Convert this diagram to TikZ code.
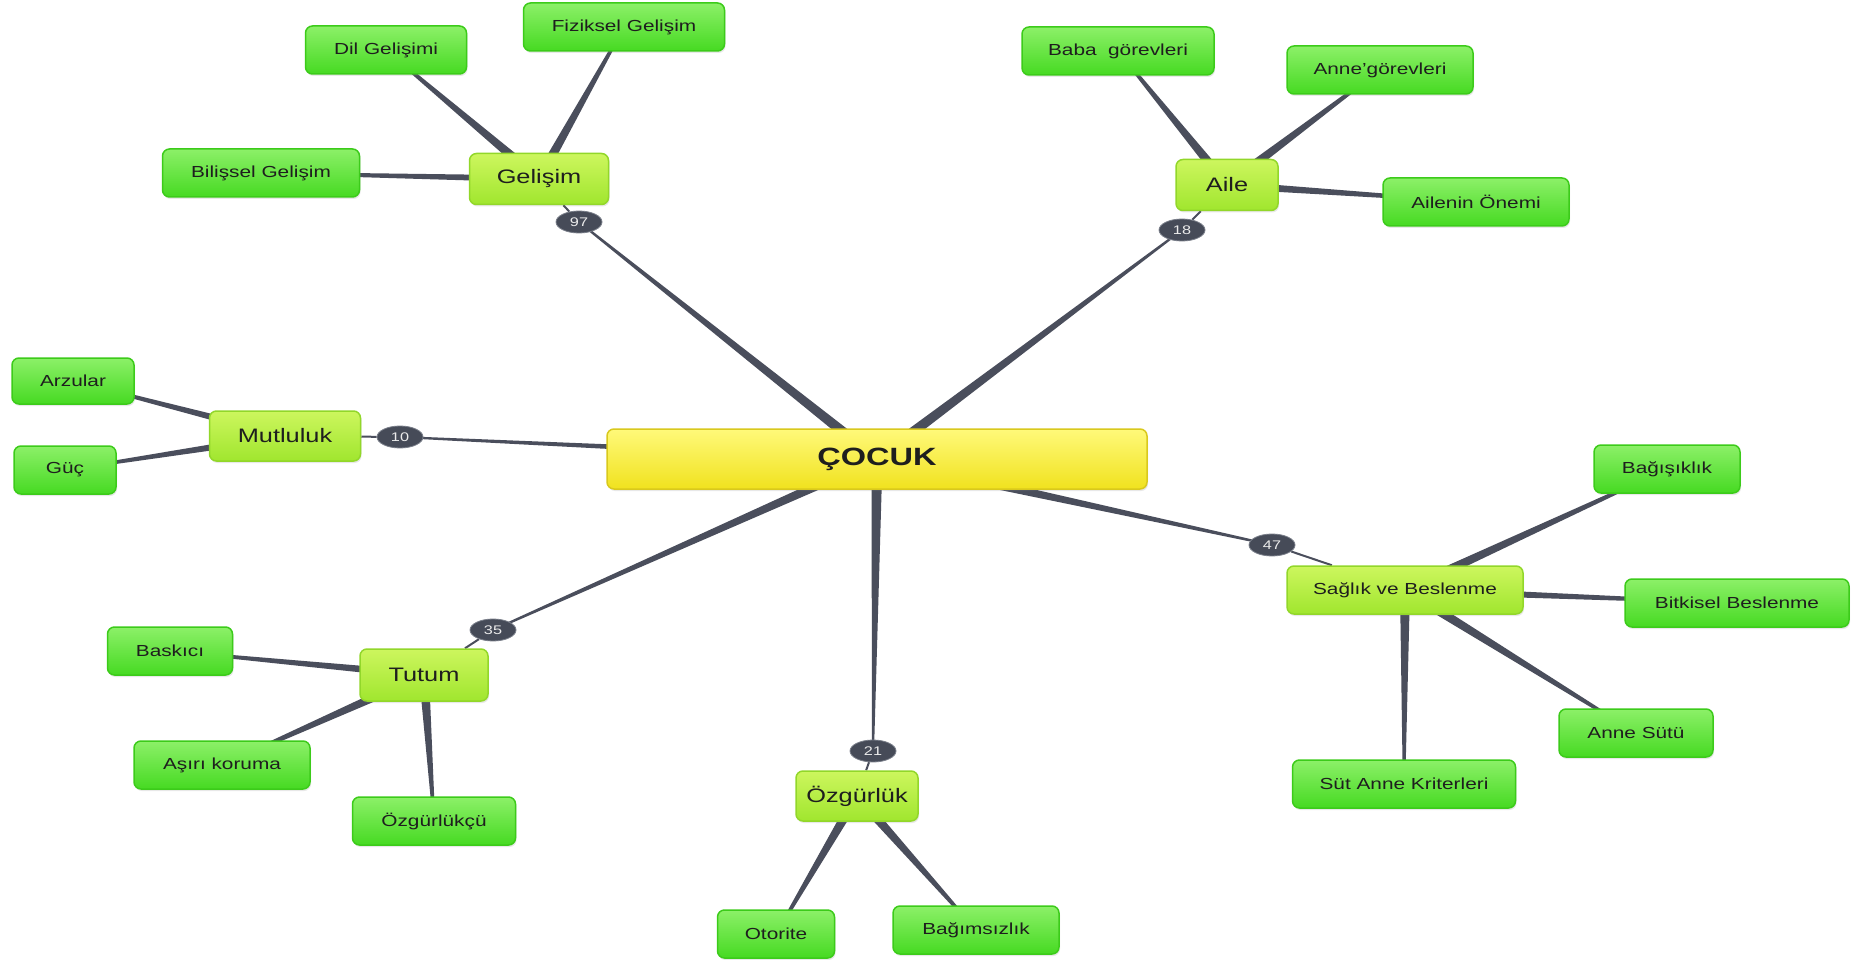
\documentclass[tikz,border=0pt]{standalone}
\usepackage{fontspec}
\setmainfont[FakeStretch=1.3]{Liberation Sans}
\usetikzlibrary{backgrounds,calc,shadows,shapes.geometric}
\definecolor{linec}{HTML}{4A4E5C}
\definecolor{leafT}{HTML}{8CF068}
\definecolor{leafBot}{HTML}{46DA22}
\definecolor{leafD}{HTML}{3CCB1A}
\definecolor{topT}{HTML}{CDF65E}
\definecolor{topBot}{HTML}{A0E62E}
\definecolor{topD}{HTML}{92D72A}
\definecolor{rootT}{HTML}{FFF97A}
\definecolor{rootBot}{HTML}{F0E21E}
\definecolor{rootD}{HTML}{D9C91C}
\definecolor{badgeF}{HTML}{464B58}
\definecolor{badgeD}{HTML}{7A7F8A}
\definecolor{txt}{HTML}{1E1E1E}
\newcommand\taper[4]{\fill[linec] ($(#1)!#3!90:(#2)$) -- ($(#1)!#3!-90:(#2)$) -- ($(#2)!#4!90:(#1)$) -- ($(#2)!#4!-90:(#1)$) -- cycle;}
\tikzset{
  base/.style={rounded corners=7pt, inner sep=0pt, text=txt, line width=1.5pt,
    drop shadow={opacity=0.18, shadow xshift=1pt, shadow yshift=-2pt}},
  leaf/.style={base, draw=leafD, top color=leafT, bottom color=leafBot,
    minimum height=48pt, font=\fontsize{16}{18}\selectfont},
  topic/.style={base, draw=topD, top color=topT, bottom color=topBot,
    minimum height=51pt, font=\fontsize{19.5}{22}\selectfont},
  root/.style={base, draw=rootD, top color=rootT, bottom color=rootBot,
    minimum height=60pt, font=\fontsize{25}{28}\selectfont\bfseries},
  badge/.style={ellipse, fill=badgeF, draw=badgeD, line width=0.8pt,
    minimum width=46pt, minimum height=22pt, inner sep=0pt, text=white!92!black,
    font=\fontsize{12.5}{14}\selectfont},
  thin/.style={draw=linec, line width=2pt}
}
\begin{document}
\begin{tikzpicture}[x=1pt,y=-1pt]
\useasboundingbox (0,0) rectangle (1863,960);
% root
\node[root, minimum width=540pt] (c) at (877,459) {ÇOCUK};
% Gelişim
\node[topic, minimum width=139pt] (g) at (539,179) {Gelişim};
\node[leaf, minimum width=161pt] (g1) at (386,50) {Dil Gelişimi};
\node[leaf, minimum width=201pt] (g2) at (624,27) {Fiziksel Gelişim};
\node[leaf, minimum width=197pt] (g3) at (261,173) {Bilişsel Gelişim};
\node[badge] (b97) at (579,222) {97};
% Aile
\node[topic, minimum width=102pt] (a) at (1227,185) {Aile};
\node[leaf, minimum width=192pt] (a1) at (1118,51) {Baba~ görevleri};
\node[leaf, minimum width=186pt] (a2) at (1380,70) {Anne'görevleri};
\node[leaf, minimum width=186pt] (a3) at (1476,202) {Ailenin Önemi};
\node[badge] (b18) at (1182,230) {18};
% Mutluluk
\node[topic, minimum width=151pt, minimum height=50pt] (m) at (285,436) {Mutluluk};
\node[leaf, minimum width=122pt, minimum height=46pt] (m1) at (73,381) {Arzular};
\node[leaf, minimum width=102pt] (m2) at (65,470) {Güç};
\node[badge] (b10) at (400,437) {10};
% Sağlık
\node[topic, minimum width=236pt, minimum height=48pt, font=\fontsize{16}{18}\selectfont] (s) at (1405,590) {Sağlık ve Beslenme};
\node[leaf, minimum width=146pt] (s1) at (1667,469) {Bağışıklık};
\node[leaf, minimum width=224pt] (s2) at (1737,603) {Bitkisel Beslenme};
\node[leaf, minimum width=154pt] (s3) at (1636,733) {Anne Sütü};
\node[leaf, minimum width=223pt] (s4) at (1404,784) {Süt Anne Kriterleri};
\node[badge] (b47) at (1272,545) {47};
% Tutum
\node[topic, minimum width=128pt, minimum height=52pt] (t) at (424,675) {Tutum};
\node[leaf, minimum width=125pt] (t1) at (170,651) {Baskıcı};
\node[leaf, minimum width=176pt] (t2) at (222,765) {Aşırı koruma};
\node[leaf, minimum width=163pt] (t3) at (434,821) {Özgürlükçü};
\node[badge] (b35) at (493,630) {35};
% Özgürlük
\node[topic, minimum width=122pt, minimum height=50pt] (o) at (857,796) {Özgürlük};
\node[leaf, minimum width=117pt] (o1) at (776,934) {Otorite};
\node[leaf, minimum width=166pt] (o2) at (976,930) {Bağımsızlık};
\node[badge] (b21) at (873,751) {21};
\begin{pgfonlayer}{background}
  \fill[white] (0,0) rectangle (1863,960);
  % root to badges
  \taper{c}{b97}{5.5pt}{1pt}
  \taper{c}{b18}{5.5pt}{1pt}
  \taper{c}{b10}{4pt}{1pt}
  \taper{c}{b47}{5.5pt}{1pt}
  \taper{c}{b35}{5pt}{1pt}
  \taper{c}{b21}{5.5pt}{1pt}
  % badges to topics
  \draw[thin] (b97) -- (g);
  \draw[thin] (b18) -- (a);
  \draw[thin] (b10) -- (m);
  \draw[thin] (b47) -- (s);
  \draw[thin] (b35) -- (t);
  \draw[thin] (b21) -- (o);
  % topics to leaves
  \taper{g}{g1}{5pt}{1.2pt}
  \taper{g}{g2}{5pt}{1.2pt}
  \taper{g}{g3}{3.5pt}{1.2pt}
  \taper{a}{a1}{5pt}{1.2pt}
  \taper{a}{a2}{5pt}{1.2pt}
  \taper{a}{a3}{4pt}{1.2pt}
  \taper{m}{m1}{4pt}{1.2pt}
  \taper{m}{m2}{4pt}{1.2pt}
  \taper{s}{s1}{5pt}{1.2pt}
  \taper{s}{s2}{4pt}{1.2pt}
  \taper{s}{s3}{5pt}{1.2pt}
  \taper{s}{s4}{5pt}{1.2pt}
  \taper{t}{t1}{4pt}{1.2pt}
  \taper{t}{t2}{5pt}{1.2pt}
  \taper{t}{t3}{5pt}{1.2pt}
  \taper{o}{o1}{5pt}{1.2pt}
  \taper{o}{o2}{5pt}{1.2pt}
\end{pgfonlayer}
\end{tikzpicture}
\end{document}
